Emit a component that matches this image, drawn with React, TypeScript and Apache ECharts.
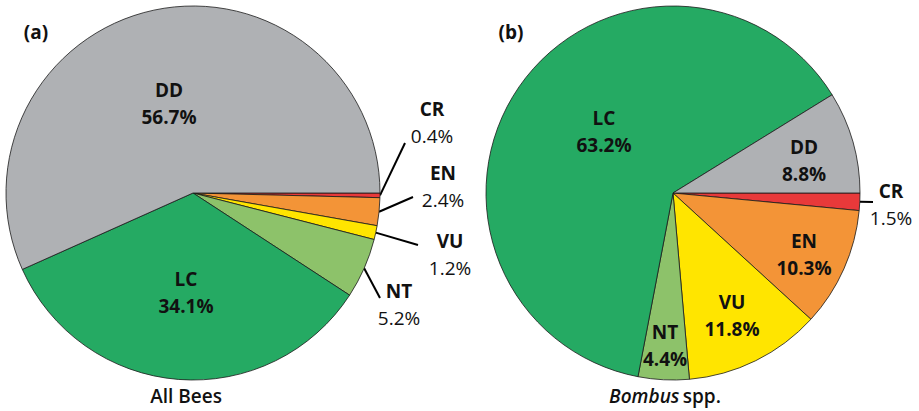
import React, { useEffect, useRef } from "react";
import * as echarts from "echarts";

const categories = ["CR", "EN", "VU", "NT", "LC", "DD"];
const allBeesValues = [0.4, 2.4, 1.2, 5.2, 34.1, 56.7];
const bombusValues = [1.5, 10.3, 11.8, 4.4, 63.2, 8.8];
const panelTitles = ["(a)", "(b)"];

const colors: Record<string, string> = {
  CR: "#E8393A",
  EN: "#F39437",
  VU: "#FFE500",
  NT: "#8DC26A",
  LC: "#25AA63",
  DD: "#AFB1B4",
};

const FONT = "'Open Sans', Lato, sans-serif";
const FS = 19;
const CENTERS: [number, number][] = [
  [193, 193],
  [673, 193],
];
const RADIUS = 187;

// label placement relative to each pie's centre: [labelX, labelY, lineEndX?, lineEndY?]
const labelPlacement: Record<string, number[]>[] = [
  {
    CR: [239, -71, 212, -50],
    EN: [250, -7, 220, 4],
    VU: [257, 61, 225, 52],
    NT: [206, 111, 187, 105],
    DD: [-24, -90],
    LC: [-7, 99],
  },
  {
    LC: [-69, -62],
    DD: [131, -33],
    CR: [218, 11, 200, 9],
    EN: [131, 61],
    VU: [59, 122],
    NT: [-8, 152],
  },
];

function buildData(values: number[], seriesIdx: number) {
  return categories.map((name, i) => {
    const p = labelPlacement[seriesIdx][name];
    const outside = p.length > 2;
    return {
      name,
      value: values[i],
      itemStyle: { color: colors[name] },
      label: outside
        ? { position: "outside", formatter: (pr: any) => `{n|${pr.name}}\n{p|${Number(pr.value).toFixed(1)}%}` }
        : { position: "inside", formatter: (pr: any) => `{n|${pr.name}}\n{b|${Number(pr.value).toFixed(1)}%}` },
      labelLine: { show: outside },
    };
  });
}

function makeSeries(values: number[], idx: number) {
  const [cx, cy] = CENTERS[idx];
  return {
    type: "pie",
    center: [cx, cy],
    radius: RADIUS,
    startAngle: 0,
    clockwise: true,
    avoidLabelOverlap: false,
    silent: true,
    itemStyle: { borderColor: "#1a1a1a", borderWidth: 0.8 },
    label: {
      show: true,
      color: "#111",
      fontFamily: FONT,
      lineHeight: 27,
      rich: {
        n: { fontFamily: FONT, fontSize: FS, fontWeight: "bold", color: "#111", lineHeight: 27, align: "center" },
        b: { fontFamily: FONT, fontSize: FS, fontWeight: "bold", color: "#111", lineHeight: 27, align: "center" },
        p: { fontFamily: FONT, fontSize: FS, fontWeight: "normal", color: "#111", lineHeight: 27, align: "center" },
      },
    },
    labelLine: { show: false, smooth: false, length: 20, length2: 0, lineStyle: { color: "#000", width: 2 } },
    labelLayout: (params: any) => {
      const name = categories[params.dataIndex];
      const p = labelPlacement[idx][name];
      const res: any = {
        x: cx + p[0],
        y: cy + p[1],
        align: "center",
        verticalAlign: "middle",
      };
      if (p.length > 2 && params.labelLinePoints) {
        const start = params.labelLinePoints[0];
        const end = [cx + p[2], cy + p[3]];
        res.labelLinePoints = [start, end, end];
      }
      return res;
    },
    data: buildData(values, idx),
  };
}

export default function App() {
  const ref = useRef<HTMLDivElement>(null);
  useEffect(() => {
    document.body.style.margin = "0";
    if (!ref.current) return;
    const chart = echarts.init(ref.current, undefined, { renderer: "svg" });
    chart.setOption({
      animation: false,
      backgroundColor: "#ffffff",
      series: [makeSeries(allBeesValues, 0), makeSeries(bombusValues, 1)],
      graphic: [
        {
          type: "text",
          x: 36,
          y: 32,
          style: { text: panelTitles[0], font: `bold ${FS}px ${FONT}`, fill: "#111", align: "center", verticalAlign: "middle" },
        },
        {
          type: "text",
          x: 511,
          y: 32,
          style: { text: panelTitles[1], font: `bold ${FS}px ${FONT}`, fill: "#111", align: "center", verticalAlign: "middle" },
        },
        {
          type: "text",
          x: 186,
          y: 396,
          style: { text: "All Bees", font: `600 ${FS}px ${FONT}`, fill: "#111", align: "center", verticalAlign: "middle" },
        },
        {
          type: "text",
          x: 665,
          y: 396,
          style: {
            text: "{i|Bombus} {r|spp.}",
            align: "center",
            verticalAlign: "middle",
            rich: {
              i: { fontFamily: FONT, fontSize: FS, fontStyle: "italic", fontWeight: 600, fill: "#111" },
              r: { fontFamily: FONT, fontSize: FS, fontWeight: 600, fill: "#111" },
            },
          },
        },
      ],
    });
    return () => chart.dispose();
  }, []);
  return <div ref={ref} style={{ width: 919, height: 411 }} />;
}
